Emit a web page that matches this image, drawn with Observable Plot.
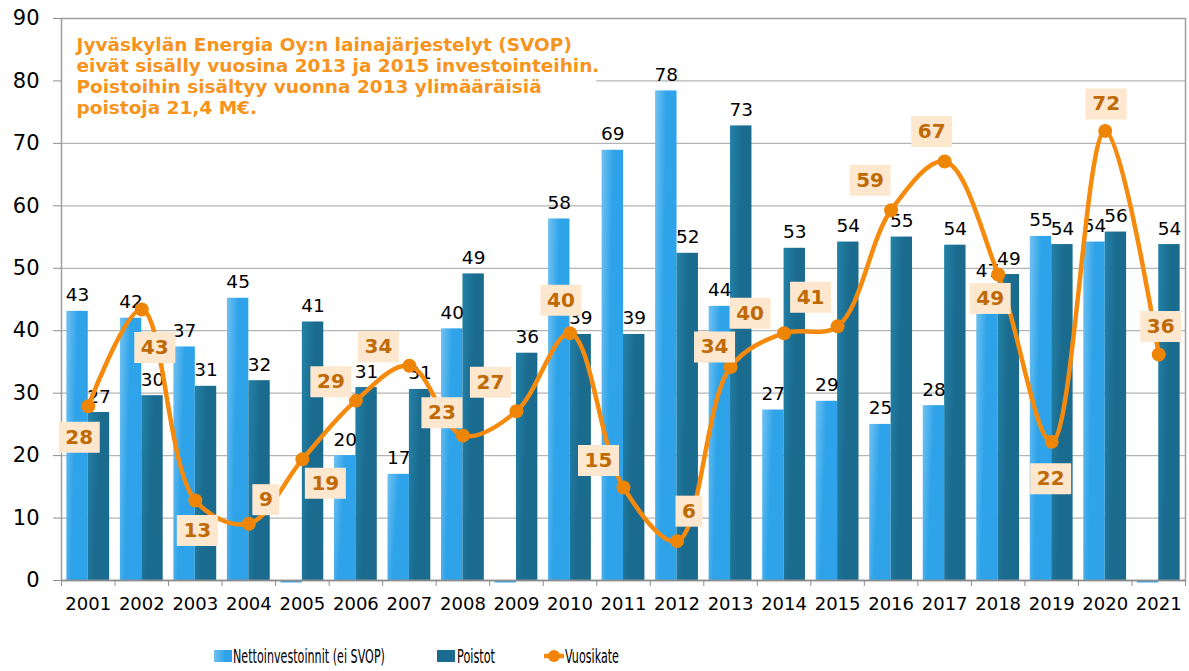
<!DOCTYPE html>
<html>
<head>
<meta charset="utf-8">
<script src="https://cdn.jsdelivr.net/npm/d3@7"></script>
<script src="https://cdn.jsdelivr.net/npm/@observablehq/plot@0.6"></script>
<style>
  html, body { margin: 0; padding: 0; background: #fff; }
  #wrap { position: relative; width: 1189px; height: 671px; font-family: "DejaVu Sans", Verdana, sans-serif; }
  #legend { position: absolute; left: 0; top: 630px; }
</style>
</head>
<body>
<div id="wrap">
  <div id="chart"></div>
  <svg id="legend" width="1189" height="41"></svg>
</div>
<script>
// ---- data ----
const years = [2001,2002,2003,2004,2005,2006,2007,2008,2009,2010,2011,2012,2013,2014,2015,2016,2017,2018,2019,2020,2021];
const netto = [43.1,42.0,37.4,45.2,0,20.0,17.0,40.3,0,57.9,68.9,78.4,43.9,27.3,28.7,25.0,28.0,47.0,55.1,54.2,0];
const poistot = [26.9,29.6,31.1,32.0,41.4,30.9,30.6,49.1,36.4,39.4,39.4,52.4,72.8,53.2,54.2,55.0,53.7,49.0,53.8,55.8,53.8];
const vuosikate = [27.9,43.4,12.8,9.1,19.4,28.8,34.4,23.2,27.1,39.6,14.9,6.3,34.2,39.6,40.7,59.3,67.1,49.0,22.2,72.0,36.2];
const seriesNames = ["Nettoinvestoinnit (ei SVOP)", "Poistot", "Vuosikate"];
const yTicks = [0,10,20,30,40,50,60,70,80,90];
const noteLines = [
  "Jyväskylän Energia Oy:n lainajärjestelyt (SVOP)",
  "eivät sisälly vuosina 2013 ja 2015 investointeihin.",
  "Poistoihin sisältyy vuonna 2013 ylimääräisiä",
  "poistoja 21,4 M€."
];

// ---- label layout (annotation placement, not data) ----
const vkLabelOffset = [
  [-9,31],[13,38],[2,30],[17,-24],[23,24],[-25,-19],[-31,-19],[-21,-23],[-26,-29],[-9,-33],
  [-25,-27],[12,-30],[-16,-20],[-34,-20],[-27,-29],[-21,-30],[-13,-30],[-8,24],[-1,37],[1,-27],[2,-28]
];

const rows = years.map((year, i) => ({year, netto: netto[i], poistot: poistot[i], vk: vuosikate[i]}));

const C_NETTO = "#2EA3E9", C_POIS = "#1B6B8F", C_VK = "#F58A0C", C_VKDOT = "#EE8506";
const C_BOX = "#FDE7CF", C_VKTXT = "#BF6A05", C_NOTE = "#F7941D";

const boxSym = w => ({ draw(ctx) { ctx.rect(-w/2, -15.5, w, 31); } });

const vkMarks = [];
rows.forEach((r, i) => {
  const [dx, dy] = vkLabelOffset[i];
  const txt = String(Math.round(r.vk));
  vkMarks.push(Plot.dot([r], {x: "year", y: "vk", dx, dy, symbol: boxSym(txt.length > 1 ? 41 : 27), fill: C_BOX, stroke: "none"}));
  vkMarks.push(Plot.text([r], {x: "year", y: "vk", dx, dy, text: () => txt, fill: C_VKTXT, fontWeight: "bold", fontSize: 20, lineAnchor: "middle", textAnchor: "middle"}));
});

const boundaries = years.map(y => y - 0.5).concat([years[years.length - 1] + 0.5]);

const plot = Plot.plot({
  width: 1189,
  height: 630,
  marginLeft: 61,
  marginRight: 4,
  marginTop: 18,
  marginBottom: 50,
  style: {fontFamily: "DejaVu Sans, Verdana, sans-serif", background: "white", overflow: "visible"},
  x: {type: "linear", domain: [boundaries[0], boundaries[boundaries.length - 1]], axis: null},
  y: {domain: [0, 90], axis: null},
  marks: [
    Plot.ruleY(yTicks.slice(1, -1), {stroke: "#B4B4B4", strokeWidth: 1.2}),
    // white box behind the note
    Plot.rectY([0], {x1: () => boundaries[0], x2: () => boundaries[10], y1: () => 72.5, y2: () => 89.8, fill: "white", insetLeft: 1}),
    Plot.rectY(rows.filter(d => d.netto > 0), {x1: d => d.year - 0.4, x2: d => d.year, y: "netto", fill: "url(#gNetto)"}),
    Plot.rectY(rows, {x1: d => d.year, x2: d => d.year + 0.4, y: "poistot", fill: "url(#gPois)"}),
    Plot.ruleY(rows.filter(d => d.netto === 0), {x1: d => d.year - 0.4, x2: d => d.year, y: 0, stroke: C_NETTO, strokeWidth: 2, dy: 1}),
    Plot.frame({stroke: "#9E9E9E", strokeWidth: 1.5}),
    Plot.ruleY([0], {stroke: "#8C8C8C", strokeWidth: 1.5}),
    Plot.axisY({ticks: yTicks, tickSize: 8, tickPadding: 14, fontSize: 21, stroke: "#8C8C8C", fill: "black", label: null, tickFormat: d => String(d)}),
    Plot.axisX({ticks: boundaries, tickSize: 6, tickFormat: () => "", stroke: "#8C8C8C", label: null}),
    Plot.axisX({ticks: years, tickSize: 0, tickPadding: 17, fontSize: 18, fill: "black", label: null, tickFormat: d => String(d)}),
    Plot.text(rows.filter(d => d.netto > 0), {x: d => d.year - 0.2, y: "netto", text: d => String(Math.round(d.netto)), lineAnchor: "bottom", dy: -10, fontSize: 18.5, fill: "black"}),
    Plot.text(rows, {x: d => d.year + 0.2, y: "poistot", text: d => String(Math.round(d.poistot)), lineAnchor: "bottom", dy: -10, fontSize: 18.5, fill: "black"}),
    Plot.line(rows, {x: "year", y: "vk", curve: "catmull-rom", stroke: C_VK, strokeWidth: 4.5}),
    Plot.dot(rows, {x: "year", y: "vk", r: 7, fill: C_VKDOT, stroke: "none"}),
    ...vkMarks,
    Plot.text([noteLines.join("\n")], {frameAnchor: "top-left", dx: 15, dy: 18, text: d => d, textAnchor: "start", lineAnchor: "top", fontSize: 18.5, fontWeight: "bold", fill: C_NOTE, lineHeight: 1.135})
  ]
});

plot.insertAdjacentHTML("afterbegin", `
<defs>
  <linearGradient id="gNetto" x1="0" y1="0" x2="0.9" y2="0.3">
    <stop offset="0" stop-color="#72C2F2"/>
    <stop offset="0.55" stop-color="${C_NETTO}"/>
    <stop offset="1" stop-color="${C_NETTO}"/>
  </linearGradient>
  <linearGradient id="gPois" x1="0" y1="0" x2="0.9" y2="0.3">
    <stop offset="0" stop-color="#2382A8"/>
    <stop offset="0.6" stop-color="${C_POIS}"/>
    <stop offset="1" stop-color="${C_POIS}"/>
  </linearGradient>
</defs>`);
document.getElementById("chart").appendChild(plot);

// ---- legend ----
const leg = d3.select("#legend");
leg.append("defs").html(`<linearGradient id="gLeg2" x1="0" y1="0" x2="1" y2="0"><stop offset="0" stop-color="#72C2F2"/><stop offset="0.6" stop-color="${C_NETTO}"/></linearGradient>`);
const ly = 26;
function legText(x, width, label) {
  const g = leg.append("g").attr("transform", `translate(${x},${ly + 7})`);
  const t = g.append("text").attr("font-size", 19).attr("font-family", "DejaVu Sans").attr("fill", "black").text(label);
  const natural = t.node().getComputedTextLength() || width;
  t.attr("transform", `scale(${width / natural},1)`);
}
leg.append("rect").attr("x", 214).attr("y", ly - 6).attr("width", 18).attr("height", 12).attr("fill", "url(#gLeg2)");
legText(233, 152, seriesNames[0]);
leg.append("rect").attr("x", 437).attr("y", ly - 6).attr("width", 18).attr("height", 12).attr("fill", C_POIS);
legText(457, 38, seriesNames[1]);
leg.append("line").attr("x1", 544).attr("x2", 564).attr("y1", ly).attr("y2", ly).attr("stroke", C_VK).attr("stroke-width", 4.5);
leg.append("circle").attr("cx", 554).attr("cy", ly).attr("r", 6).attr("fill", C_VKDOT);
legText(565, 54, seriesNames[2]);
</script>
</body>
</html>
